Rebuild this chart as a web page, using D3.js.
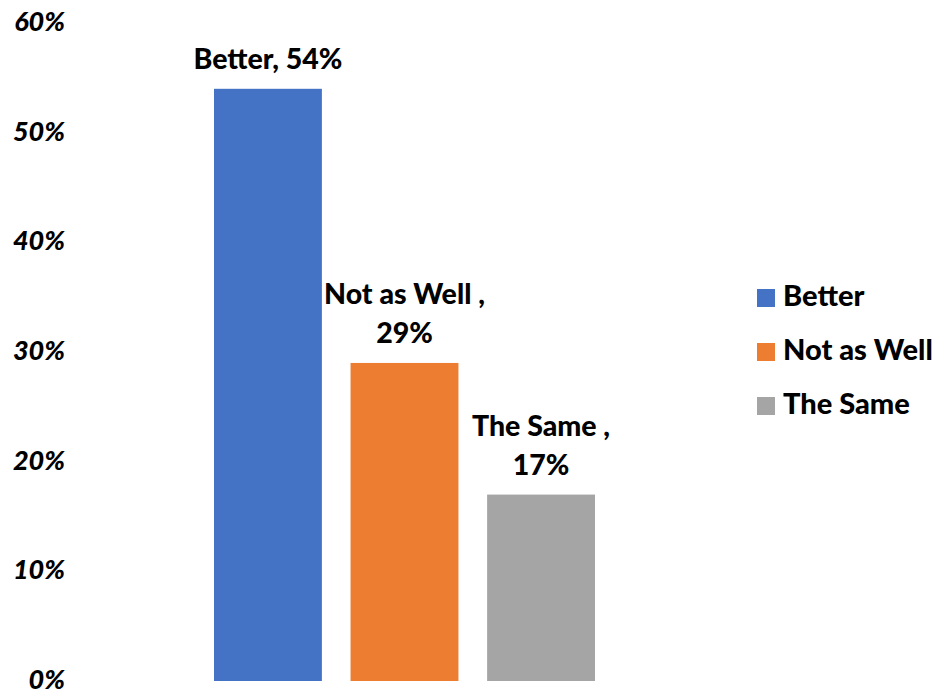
<!DOCTYPE html>
<html>
<head>
<meta charset="utf-8">
<script src="https://cdn.jsdelivr.net/npm/d3@7"></script>
<style>
  html, body { margin: 0; padding: 0; background: #fff; }
  svg { display: block; }
  text { font-family: Lato, "Liberation Sans", sans-serif; font-weight: 900; fill: #000; }
</style>
</head>
<body>
<svg id="chart" width="950" height="693"></svg>
<script>
// Survey outcome shares
const categories = ["Better", "Not as Well", "The Same"];
const values = [0.54, 0.29, 0.17];
const colors = ["#4472C4", "#ED7D31", "#A5A5A5"];
// Data label lines for each bar (wrapped as shown on the chart)
const labelLines = [["Better, 54%"], ["Not as Well ,", "29%"], ["The Same ,", "17%"]];
const yTicks = [0, 0.1, 0.2, 0.3, 0.4, 0.5, 0.6];

const svg = d3.select("#chart");

const y = d3.scaleLinear().domain([0, 0.6]).range([681, 23]);
const x = d3.scaleBand().domain(categories).range([214, 595]).paddingInner(0.21).paddingOuter(0);
const color = d3.scaleOrdinal().domain(categories).range(colors);

// Y axis: labels only, no domain line or tick marks
const yAxis = d3.axisLeft(y).tickValues(yTicks).tickFormat(d3.format(".0%")).tickSize(0).tickPadding(0);
const gy = svg.append("g").attr("transform", "translate(65,0)").call(yAxis);
gy.select(".domain").remove();
gy.selectAll("text")
  .attr("font-family", "Lato, 'Liberation Sans', sans-serif")
  .attr("font-weight", 900)
  .attr("font-style", "italic")
  .attr("font-size", 27)
  .attr("dy", "0.28em")
  .attr("fill", "#000");

const data = categories.map((c, i) => ({ cat: c, value: values[i], lines: labelLines[i] }));

// Bars
svg.append("g").selectAll("rect").data(data).join("rect")
  .attr("x", d => x(d.cat))
  .attr("width", x.bandwidth())
  .attr("y", d => y(d.value))
  .attr("height", d => y(0) - y(d.value))
  .attr("fill", d => color(d.cat));

// Data labels above bars
const lineGap = 39;
const lbl = svg.append("g").selectAll("text").data(data).join("text")
  .attr("text-anchor", "middle")
  .attr("font-size", 28.5)
  .attr("x", d => x(d.cat) + x.bandwidth() / 2)
  .attr("y", d => y(d.value) - 20 - (d.lines.length - 1) * lineGap);
lbl.selectAll("tspan").data(d => d.lines.map(t => ({ t, cx: x(d.cat) + x.bandwidth() / 2 }))).join("tspan")
  .attr("x", d => d.cx)
  .attr("dy", (d, i) => i === 0 ? 0 : lineGap)
  .text(d => d.t);

// Legend
const legend = svg.append("g").attr("transform", "translate(757,289)");
const li = legend.selectAll("g").data(categories).join("g")
  .attr("transform", (d, i) => `translate(0,${i * 54})`);
li.append("rect").attr("width", 18).attr("height", 18).attr("fill", d => color(d));
li.append("text").attr("x", 26).attr("y", 17).attr("font-size", 29).text(d => d);
</script>
</body>
</html>
